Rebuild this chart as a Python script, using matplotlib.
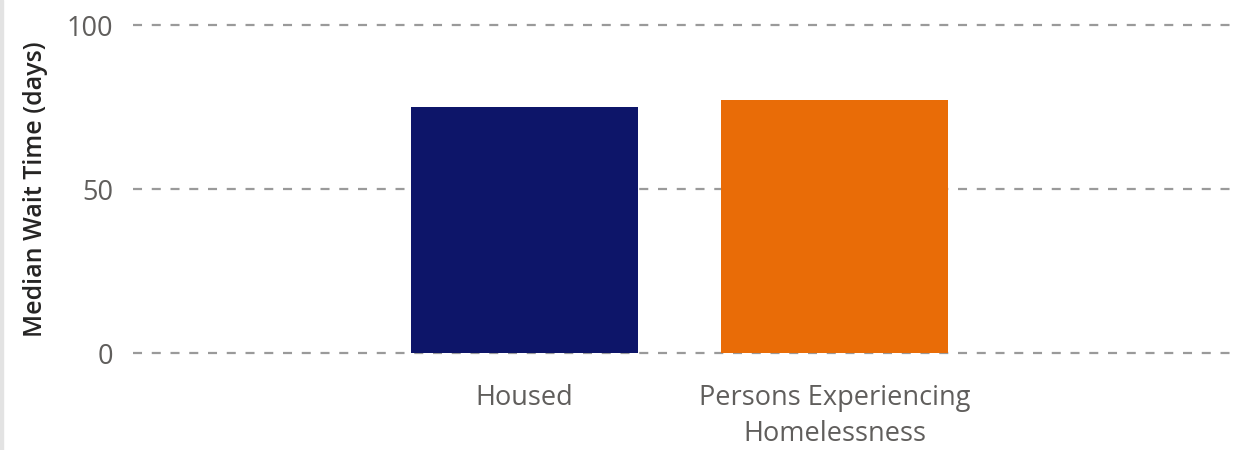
import matplotlib
matplotlib.use("Agg")
import matplotlib.pyplot as plt
from matplotlib.patches import Rectangle

categories = ["Housed", "Persons Experiencing\nHomelessness"]
values = [75, 77]
colors = ["#0D1569", "#E96C07"]
yticks = [0, 50, 100]

plt.rcParams['font.family'] = ['Open Sans', 'DejaVu Sans']
plt.rcParams['lines.scale_dashes'] = False

fig = plt.figure(figsize=(12.36, 4.5), dpi=100)
fig.patches.append(Rectangle((0, 0), 3 / 1236, 1, transform=fig.transFigure,
                             color="#E3E3E3", zorder=0))
ax = fig.add_axes([133 / 1236, 97 / 450, 1 - 133 / 1236, 328 / 450])

x = list(range(len(categories)))
ax.bar(x, values, width=0.732, color=colors, zorder=3)
ax.set_xlim(-1.263, 2.295)
ax.set_ylim(0, 100)
ax.set_yticks(yticks)
ax.set_xticks(x)
ax.set_xticklabels(categories, linespacing=1.4)

for y in yticks:
    ax.axhline(y, color="#9A9A9A", linewidth=1.6, dashes=(6.5, 7), zorder=1, clip_on=False)

for s in ax.spines.values():
    s.set_visible(False)
ax.tick_params(axis='both', length=0, labelsize=19.5, labelcolor="#605E5C")
ax.tick_params(axis='y', pad=14)
ax.tick_params(axis='x', pad=22)
ax.set_ylabel("Median Wait Time (days)", fontsize=18, fontweight='semibold',
              color="#252423", labelpad=14)

fig.savefig("out.png", dpi=100)
